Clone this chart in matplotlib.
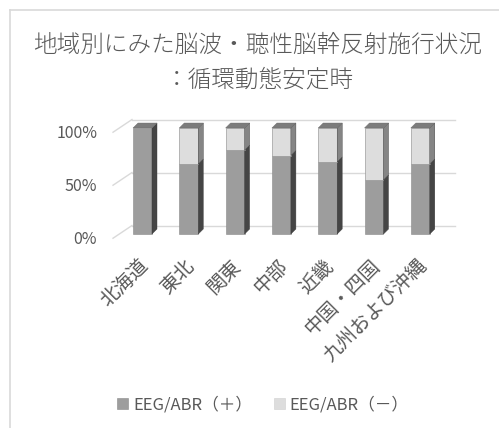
import matplotlib.pyplot as plt
from matplotlib.patches import Polygon, Patch
from matplotlib.lines import Line2D

plt.rcParams['font.family'] = ['Noto Sans CJK JP', 'DejaVu Sans']

# regions and share of EEG/ABR performed (rest = not performed)
regions = ['北海道', '東北', '関東', '中部', '近畿', '中国・四国', '九州および沖縄']
eeg_pos = [1.00, 0.66, 0.79, 0.74, 0.68, 0.51, 0.66]
eeg_neg = [1 - v for v in eeg_pos]
yticks = [0.0, 0.5, 1.0]
ytick_labels = ['0%', '50%', '100%']

text_col = '#595959'
grid_col = '#d9d9d9'
front = ['#9d9d9d', '#dddddd']
side = ['#454545', '#858585']
top_col = '#7c7c7c'

W, H = 499, 428
fig = plt.figure(figsize=(W / 100, H / 100), dpi=100)
ax = fig.add_axes([0, 0, 1, 1])
ax.axis('off')

# one x unit = gap between bars, one y unit = 100 %
x0, xs = 142.5, 46.3
y0, ys = 234.0, 106.0
ax.set_xlim(-x0 / xs, (W - x0) / xs)
ax.set_ylim((y0 - H) / ys, y0 / ys)

bw = 0.41          # bar width
dx, dy = 0.108, 0.047   # bar depth
back = 0.08        # back wall offset of the grid

# gridlines on back wall + floor-side diagonals
for v, lab in zip(yticks, ytick_labels):
    ax.plot([-0.637, -0.227], [v - 0.04, v + back], color=grid_col, lw=1, zorder=1)
    ax.plot([-0.227, 6.75], [v + back, v + back], color=grid_col, lw=1, zorder=1)
    ax.text(-0.98, v - 0.05, lab, ha='right', va='center',
            fontsize=11.5, color=text_col)

for i in range(len(regions)):
    bottom = 0.0
    for k, h in enumerate([eeg_pos[i], eeg_neg[i]]):
        if h <= 0:
            continue
        ax.bar(i, h, bottom=bottom, width=bw, color=front[k], edgecolor='#8a8a8a',
               linewidth=0.4, zorder=3)
        r = i + bw / 2
        ax.add_patch(Polygon([(r, bottom), (r + dx, bottom + dy), (r + dx, bottom + h + dy),
                              (r, bottom + h)], closed=True, facecolor=side[k],
                             edgecolor='#3a3a3a', linewidth=0.3, zorder=3))
        bottom += h
    l = i - bw / 2
    ax.add_patch(Polygon([(l, bottom), (l + bw, bottom), (l + bw + dx, bottom + dy),
                          (l + dx, bottom + dy)], closed=True, facecolor=top_col,
                         edgecolor='#6a6a6a', linewidth=0.3, zorder=3))
    ax.text(i - 0.1, -0.2, regions[i], rotation=45, ha='right', va='top',
            rotation_mode='anchor', fontsize=14, color=text_col)

fig.text(0.517, 0.895, '地域別にみた脳波・聴性脳幹反射施行状況', ha='center', va='center',
         fontsize=17, color=text_col, fontweight='light')
fig.text(0.52, 0.813, '：循環動態安定時', ha='center', va='center',
         fontsize=17, color=text_col, fontweight='light')

handles = [Patch(facecolor=front[0], edgecolor='#8a8a8a', linewidth=0.4),
           Patch(facecolor=front[1], edgecolor='#cfcfcf', linewidth=0.4)]
fig.legend(handles, ['EEG/ABR（＋）', 'EEG/ABR（－）'], loc='center',
           bbox_to_anchor=(0.527, 0.054), ncol=2, frameon=False, fontsize=12,
           handlelength=0.65, handleheight=0.65, handletextpad=0.3, columnspacing=1.3,
           labelcolor=text_col)

# chart area border
fig.add_artist(Line2D([10 / W, 10 / W], [0, 1 - 10 / H], color=grid_col, lw=1.2))
fig.add_artist(Line2D([10 / W, 1], [1 - 10 / H, 1 - 10 / H], color=grid_col, lw=1.2))

fig.savefig('out.png', dpi=100)
